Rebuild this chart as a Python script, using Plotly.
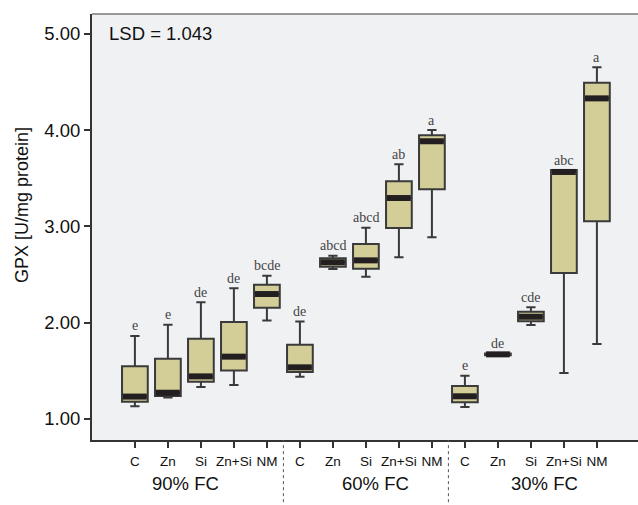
import plotly.graph_objects as go

# Treatments within each water regime and the regimes themselves
treatments = ["C", "Zn", "Si", "Zn+Si", "NM"]
regimes = ["90% FC", "60% FC", "30% FC"]

# Box statistics for GPX activity [U/mg protein], ordered 90%, 60%, 30% FC
lower_whisker = [1.13, 1.22, 1.33, 1.35, 2.02,
                 1.437, 2.556, 2.476, 2.678, 2.886,
                 1.122, 1.660, 1.974, 1.475, 1.777]
q1 = [1.177, 1.236, 1.385, 1.50, 2.154,
      1.485, 2.58, 2.56, 2.982, 3.385,
      1.17, 1.660, 2.012, 2.515, 3.052]
median = [1.23, 1.27, 1.44, 1.645, 2.296,
          1.534, 2.626, 2.646, 3.294, 3.884,
          1.233, 1.669, 2.06, 3.565, 4.33]
q3 = [1.545, 1.624, 1.83, 2.005, 2.393,
      1.77, 2.667, 2.816, 3.468, 3.946,
      1.34, 1.678, 2.112, 3.585, 4.493]
upper_whisker = [1.86, 1.977, 2.21, 2.355, 2.487,
                 2.01, 2.694, 2.985, 3.644, 4.001,
                 1.447, 1.678, 2.158, 3.585, 4.653]
letters = ["e", "e", "de", "de", "bcde",
           "de", "abcd", "abcd", "ab", "a",
           "e", "de", "cde", "abc", "a"]
lsd_text = "LSD = 1.043"
y_ticks = [1.0, 2.0, 3.0, 4.0, 5.0]

positions = list(range(len(median)))
tick_text = treatments * len(regimes)

SANS = "Liberation Sans, Arial, sans-serif"
SERIF = "Liberation Serif, Times New Roman, serif"
BOX_W = 0.78

fig = go.Figure()

fig.add_trace(go.Box(
    x=positions,
    q1=q1, median=median, q3=q3,
    lowerfence=lower_whisker, upperfence=upper_whisker,
    width=BOX_W, whiskerwidth=0.36,
    fillcolor="#d3ce98",
    line=dict(color="#3a3a3a", width=2),
    boxpoints=False,
    showlegend=False,
    hoverinfo="skip",
))

# Thick median bars, SPSS style
mx, my = [], []
half = BOX_W / 2 - 0.03
for p, m in zip(positions, median):
    mx += [p - half, p + half, None]
    my += [m, m, None]
fig.add_trace(go.Scatter(
    x=mx, y=my, mode="lines",
    line=dict(color="#231f20", width=6),
    showlegend=False, hoverinfo="skip",
))

# Significance letters above each whisker
for p, top, lab in zip(positions, upper_whisker, letters):
    fig.add_annotation(
        x=p, y=top, text=lab, showarrow=False,
        yanchor="middle", yshift=10,
        font=dict(family=SERIF, size=14, color="#444444"),
    )

# Regime labels under the treatment ticks
regime_x = [1.53, 7.3, 12.42]
for rx, name in zip(regime_x, regimes):
    fig.add_annotation(
        x=rx, xref="x", y=-0.103, yref="paper", text=name,
        showarrow=False, yanchor="middle",
        font=dict(family=SANS, size=18.5, color="#111111"),
    )

# Dashed separators between regimes, below the axis
for sx in [4.5, 9.5]:
    fig.add_shape(
        type="line", xref="x", yref="paper",
        x0=sx, x1=sx, y0=-0.16, y1=0,
        line=dict(color="#555555", width=1, dash="dot"),
    )

# Top frame line of the plot area
fig.add_shape(
    type="line", xref="paper", yref="paper",
    x0=0, x1=1, y0=1, y1=1,
    line=dict(color="#7a7a7a", width=1.5),
)

fig.add_annotation(
    x=0.028, xref="paper", y=5.0, yref="y", text=lsd_text,
    showarrow=False, xanchor="left", yanchor="middle",
    font=dict(family=SANS, size=18.5, color="#111111"),
)

fig.add_annotation(
    x=-0.128, xref="paper", y=0.552, yref="paper",
    text="GPX [U/mg protein]", textangle=-90, showarrow=False,
    xanchor="center", yanchor="middle",
    font=dict(family=SANS, size=18, color="#111111"),
)

fig.update_layout(
    width=638, height=505,
    margin=dict(l=92, r=0, t=14, b=65),
    paper_bgcolor="white",
    plot_bgcolor="#f0f1f3",
    showlegend=False,
    xaxis=dict(
        range=[-1.30, 15.245],
        tickmode="array", tickvals=positions, ticktext=tick_text,
        ticks="outside", ticklen=6, tickwidth=1.5, tickcolor="#333333",
        showline=True, linecolor="#333333", linewidth=2,
        showgrid=False, zeroline=False,
        tickfont=dict(family=SANS, size=13.5, color="#111111"),
        ticklabelstandoff=2,
    ),
    yaxis=dict(
        range=[0.7786, 5.207],
        tickmode="array", tickvals=y_ticks, tickformat=".2f",
        ticks="outside", ticklen=6, tickwidth=1.5, tickcolor="#333333",
        showline=True, linecolor="#333333", linewidth=2,
        showgrid=False, zeroline=False,
        tickfont=dict(family=SANS, size=18.5, color="#111111"),
    ),
)

fig.write_html("out.html")
